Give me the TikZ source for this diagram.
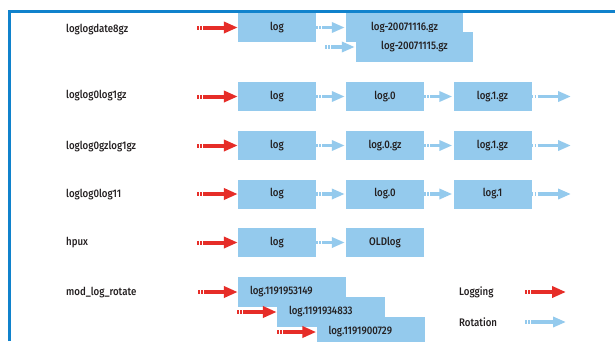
\documentclass[tikz,border=0pt]{standalone}
\usepackage{fontspec}
\setmainfont{Fira Sans}[UprightFont=* Medium,FakeStretch=0.88]
\usetikzlibrary{arrows.meta}
\definecolor{frameblue}{RGB}{16,130,204}
\definecolor{boxblue}{RGB}{148,202,237}
\definecolor{logred}{RGB}{230,45,40}
\definecolor{textgray}{RGB}{35,31,32}

\begin{document}
\begin{tikzpicture}[x=1pt,y=-1pt,
  font=\fontsize{11}{13}\selectfont, text=textgray,
  filebox/.style={fill=boxblue, minimum width=78pt, minimum height=29pt, inner sep=0pt},
  stampbox/.style={fill=boxblue, text width=84pt, inner xsep=12pt, inner ysep=0pt, minimum height=30pt, align=left},
  rowlabel/.style={anchor=west, inner sep=0pt},
  logging/.style={draw=logred, line width=4pt, dash pattern=on 1.5pt off 1.5pt on 1.5pt off 1.5pt on 300pt, -{Triangle[length=14pt,width=11pt]}},
  rotation/.style={draw=boxblue, line width=3.5pt, dash pattern=on 1.5pt off 1.5pt on 1.5pt off 1.5pt on 300pt, shorten >=1pt, -{Triangle[length=13pt,width=10pt]}}]
\clip (0,0) rectangle (615,341);
\fill[white] (0,0) rectangle (615,341);

% Frame
\draw[frameblue, line width=2.5pt] (9.5,341) -- (9.5,11.3) -- (615,11.3);

% Row labels
\node[rowlabel] (lab1) at (66,30) {loglogdate8gz};
\node[rowlabel] (lab2) at (66,96) {loglog0log1gz};
\node[rowlabel] (lab3) at (66,147) {loglog0gzlog1gz};
\node[rowlabel] (lab4) at (66,195) {loglog0log11};
\node[rowlabel] (lab5) at (66,243) {hpux};
\node[rowlabel] (lab6) at (66,293) {mod\_log\_rotate};

% loglogdate8gz
\node[filebox] (d1) at (277,27.5) {log};
\node[filebox, minimum width=117pt] (d2) at (404.5,27.5) {log-20071116.gz};
\node[filebox, minimum width=117pt, minimum height=30pt] (d3) at (414.5,47) {log-20071115.gz};
\coordinate (din) at (197,27.5);
\coordinate (d3in) at (325,47);
\draw[logging] (din) -- (d1);
\draw[rotation] (d1) -- (d2);
\draw[rotation] (d3in) -- (d3);

% loglog0log1gz
\node[filebox] (a1) at (277,96.5) {log};
\node[filebox] (a2) at (385,96.5) {log.0};
\node[filebox] (a3) at (492.5,96.5) {log.1.gz};
\coordinate (ain) at (197,96.5);
\coordinate (aout) at (572,96.5);
\draw[logging] (ain) -- (a1);
\draw[rotation] (a1) -- (a2);
\draw[rotation] (a2) -- (a3);
\draw[rotation] (a3) -- (aout);

% loglog0gzlog1gz
\node[filebox] (b1) at (277,145.5) {log};
\node[filebox] (b2) at (385,145.5) {log.0.gz};
\node[filebox] (b3) at (492.5,145.5) {log.1.gz};
\coordinate (bin) at (197,145.5);
\coordinate (bout) at (572,145.5);
\draw[logging] (bin) -- (b1);
\draw[rotation] (b1) -- (b2);
\draw[rotation] (b2) -- (b3);
\draw[rotation] (b3) -- (bout);

% loglog0log11
\node[filebox] (c1) at (277,194) {log};
\node[filebox] (c2) at (385,194) {log.0};
\node[filebox] (c3) at (492.5,194) {log.1};
\coordinate (cin) at (197,194);
\coordinate (cout) at (572,194);
\draw[logging] (cin) -- (c1);
\draw[rotation] (c1) -- (c2);
\draw[rotation] (c2) -- (c3);
\draw[rotation] (c3) -- (cout);

% hpux
\node[filebox] (h1) at (277,242.5) {log};
\node[filebox] (h2) at (385,242.5) {OLDlog};
\coordinate (hin) at (197,242.5);
\draw[logging] (hin) -- (h1);
\draw[rotation] (h1) -- (h2);

% mod_log_rotate
\node[stampbox] (m1) at (292,292) {log.1191953149};
\node[stampbox] (m2) at (331,312) {log.1191934833};
\node[stampbox] (m3) at (370.5,332) {log.1191900729};
\coordinate (m1in) at (198,292);
\coordinate (m2in) at (237,312);
\coordinate (m3in) at (277,332);
\draw[logging] (m1in) -- (m1);
\draw[logging] (m2in) -- (m2);
\draw[logging] (m3in) -- (m3);

% Legend
\node[rowlabel] (leglog) at (459,292) {Logging};
\node[rowlabel] (legrot) at (459,322) {Rotation};
\coordinate (lla) at (525,292);
\coordinate (llb) at (566,292);
\coordinate (lra) at (525,322);
\coordinate (lrb) at (566,322);
\draw[logging] (lla) -- (llb);
\draw[rotation, shorten >=0pt] (lra) -- (lrb);
\end{tikzpicture}
\end{document}
